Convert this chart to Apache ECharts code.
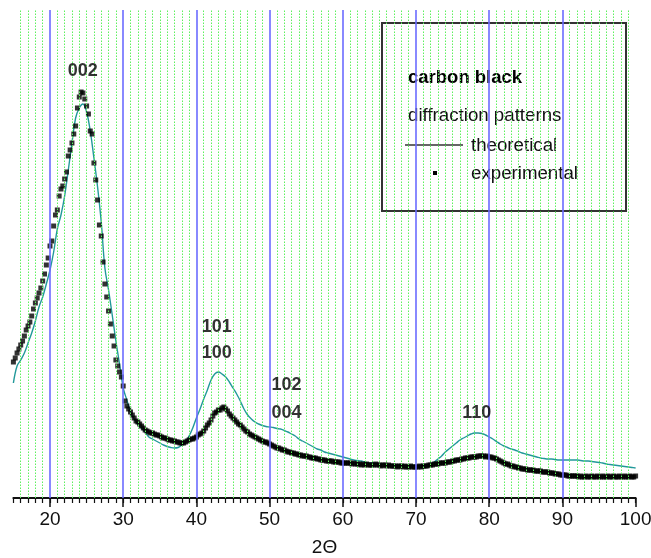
<!DOCTYPE html>
<html>
<head>
<meta charset="utf-8">
<script src="https://cdn.jsdelivr.net/npm/echarts@6/dist/echarts.min.js"></script>
<style>
  html, body { margin: 0; padding: 0; background: #fff; }
  #chart { width: 651px; height: 558px; }
</style>
</head>
<body>
<div id="chart"></div>
<script>
// X-ray diffraction of carbon black: intensity (arb. units) against 2Θ (degrees)

// Experimental scan, 2Θ from 15° to 100° in 0.25° steps (one row per degree)
const expStart = 15;
const expStep = 0.25;
const expIntensity = [
  136, 140, 145, 149,   // 15
  153, 157, 162, 168,   // 16
  172, 176, 182, 189,   // 17
  195, 200, 205, 210,   // 18
  217, 224, 233, 240,   // 19
  252, 257, 272, 283,   // 20
  288, 302, 309, 312,   // 21
  319, 326, 342, 348,   // 22
  355, 364, 372, 390,   // 23
  401, 406, 405, 399,   // 24
  392, 384, 367, 364,   // 25
  335, 318, 298, 273,   // 26
  262, 236, 214, 201,   // 27
  187, 174, 162, 152,   // 28
  138, 132, 126, 121,   // 29
  112, 97, 92, 89,      // 30
  86, 83, 80, 77,       // 31
  76, 74, 72, 70,       // 32
  68, 67, 66, 65,       // 33
  65, 64, 63, 63,       // 34
  62, 61, 60, 60,       // 35
  59, 58, 58, 57,       // 36
  57, 56, 56, 55,       // 37
  55, 55, 56, 57,       // 38
  58, 59, 59, 60,       // 39
  61, 63, 64, 65,       // 40
  67, 70, 73, 75,       // 41
  78, 82, 85, 86,       // 42
  88, 88, 90, 91,       // 43
  89, 87, 84, 82,       // 44
  80, 78, 76, 74,       // 45
  73, 71, 69, 67,       // 46
  66, 64, 63, 62,       // 47
  61, 60, 59, 58,       // 48
  57, 56, 56, 55,       // 49
  54, 53, 52, 51,       // 50
  50, 50, 49, 48,       // 51
  48, 47, 46, 46,       // 52
  45, 45, 44, 44,       // 53
  43, 43, 42, 42,       // 54
  42, 41, 41, 40,       // 55
  40, 40, 39, 39,       // 56
  38, 38, 38, 37,       // 57
  37, 37, 37, 36,       // 58
  36, 36, 36, 35,       // 59
  35, 35, 35, 35,       // 60
  35, 34, 35, 34,       // 61
  34, 34, 33, 34,       // 62
  33, 34, 33, 33,       // 63
  33, 33, 34, 33,       // 64
  33, 32, 33, 33,       // 65
  32, 33, 32, 32,       // 66
  32, 32, 31, 32,       // 67
  32, 31, 32, 31,       // 68
  31, 32, 31, 31,       // 69
  31, 31, 32, 31,       // 70
  32, 32, 32, 33,       // 71
  33, 33, 34, 34,       // 72
  34, 35, 35, 35,       // 73
  35, 36, 36, 36,       // 74
  37, 37, 38, 38,       // 75
  38, 39, 39, 40,       // 76
  40, 40, 41, 41,       // 77
  41, 41, 42, 42,       // 78
  42, 42, 41, 42,       // 79
  41, 41, 40, 40,       // 80
  39, 38, 37, 36,       // 81
  35, 34, 34, 33,       // 82
  32, 32, 31, 31,       // 83
  30, 30, 29, 29,       // 84
  29, 28, 28, 28,       // 85
  28, 27, 27, 27,       // 86
  27, 26, 26, 26,       // 87
  26, 25, 25, 25,       // 88
  24, 24, 24, 23,       // 89
  23, 23, 23, 22,       // 90
  22, 22, 22, 22,       // 91
  22, 21, 22, 21,       // 92
  21, 22, 21, 21,       // 93
  22, 21, 21, 22,       // 94
  21, 21, 22, 21,       // 95
  21, 22, 21, 21,       // 96
  22, 21, 21, 22,       // 97
  21, 21, 22, 21,       // 98
  21, 22, 21, 21,       // 99
  22                    // 100
];

// Theoretical pattern, 2Θ from 15° to 100° in 0.5° steps (one row per degree)
const theoStart = 15;
const theoStep = 0.5;
const theoIntensity = [
  115, 132,   // 15
  138, 145,   // 16
  155, 165,   // 17
  177, 191,   // 18
  201, 214,   // 19
  228, 246,   // 20
  269, 283,   // 21
  302, 328,   // 22
  355, 380,   // 23
  390, 394,   // 24
  386, 367,   // 25
  340, 311,   // 26
  276, 230,   // 27
  208, 183,   // 28
  157, 134,   // 29
  110, 98,    // 30
  86, 79,     // 31
  73.5, 70,   // 32
  66, 61,     // 33
  59, 57,     // 34
  55, 53,     // 35
  51.5, 50.5, // 36
  50, 50.5,   // 37
  53, 56,     // 38
  62, 70,     // 39
  80, 89,     // 40
  99, 108,    // 41
  118, 124,   // 42
  126, 124,   // 43
  121, 116,   // 44
  110, 104,   // 45
  97, 89,     // 46
  83, 79,     // 47
  76, 74,     // 48
  72.5, 71.5, // 49
  71, 70.5,   // 50
  69.5, 69,   // 51
  67.5, 66,   // 52
  64, 62,     // 53
  59, 57,     // 54
  55, 53,     // 55
  51, 49,     // 56
  48, 46,     // 57
  45, 44,     // 58
  43, 42,     // 59
  41, 40,     // 60
  39, 38,     // 61
  37.5, 37,   // 62
  36, 35,     // 63
  35, 34.5,   // 64
  34, 34,     // 65
  33.5, 33.5, // 66
  33, 33,     // 67
  33, 32.5,   // 68
  32.5, 32.5, // 69
  32.5, 32.5, // 70
  33, 33,     // 71
  34, 36,     // 72
  39, 42,     // 73
  46, 49,     // 74
  52, 55,     // 75
  58, 60,     // 76
  62, 64,     // 77
  65, 65,     // 78
  64.5, 63,   // 79
  61, 59,     // 80
  56.5, 54,   // 81
  52, 50.5,   // 82
  49, 48,     // 83
  46.5, 45,   // 84
  44, 43,     // 85
  42, 41,     // 86
  40, 39.5,   // 87
  39, 39,     // 88
  38.5, 38,   // 89
  38, 38,     // 90
  38, 38,     // 91
  38, 37.5,   // 92
  37, 37,     // 93
  36.5, 36,   // 94
  35.5, 35,   // 95
  34, 33.5,   // 96
  33, 32.5,   // 97
  32, 31.5,   // 98
  31, 30.5,   // 99
  30          // 100
];

// Reflection labels (hkl) and where they sit: [text, 2Θ, intensity]
const reflectionLabels = [
  ['002', 24.47, 427],
  ['101', 42.77, 171],
  ['100', 42.77, 145],
  ['102', 52.31, 113],
  ['004', 52.31, 85],
  ['110', 78.29, 85]
];

// Axis ticks and grid lines
const xMin = 15;
const xMax = 100;
const majorTicks = [20, 30, 40, 50, 60, 70, 80, 90, 100];
const majorGrid = [20, 30, 40, 50, 60, 70, 80, 90];
const minorGrid = [];
for (let v = 16; v < 100; v++) {
  if (v % 10 !== 0) minorGrid.push(v);
}

const FONT = '"Liberation Sans", Arial, Helvetica, sans-serif';

const expData = expIntensity.map((y, i) => [expStart + i * expStep, y]);
const theoData = theoIntensity.map((y, i) => [theoStart + i * theoStep, y]);

const chart = echarts.init(document.getElementById('chart'), null, { renderer: 'canvas' });

chart.setOption({
  animation: false,
  backgroundColor: '#ffffff',
  grid: {
    left: 13.4, right: 15.4, top: 10, bottom: 60,
    containLabel: false,
    outerBoundsMode: 'none'
  },
  xAxis: [
    {
      type: 'value',
      min: xMin,
      max: xMax,
      position: 'bottom',
      name: '2Θ',
      nameLocation: 'middle',
      nameGap: 40,
      nameTextStyle: { fontFamily: FONT, fontSize: 19, color: '#111' },
      axisLine: { show: true, onZero: false, lineStyle: { color: '#111', width: 2 } },
      axisTick: { show: true, customValues: majorTicks, length: 9, lineStyle: { color: '#111', width: 1.5 } },
      axisLabel: { show: true, customValues: majorTicks, margin: 12, fontFamily: FONT, fontSize: 19, color: '#111' },
      splitLine: { show: false }
    },
    {
      type: 'value',
      min: xMin,
      max: xMax,
      interval: 1,
      position: 'bottom',
      axisLine: { show: false, onZero: false },
      axisTick: { show: true, length: 5, lineStyle: { color: '#111', width: 1.2 } },
      axisLabel: { show: false },
      splitLine: { show: false }
    }
  ],
  yAxis: {
    type: 'value',
    min: 0,
    max: 488,
    show: false,
    splitLine: { show: false }
  },
  series: [
    {
      // background grid: dotted green every degree, blue every ten degrees
      name: 'grid',
      type: 'line',
      xAxisIndex: 0,
      data: [],
      silent: true,
      z: 1,
      markLine: {
        silent: true,
        symbol: ['none', 'none'],
        label: { show: false },
        animation: false,
        data: minorGrid.map(v => ({
          xAxis: v,
          lineStyle: { color: '#5ef05e', width: 1, type: [1.5, 1.5] }
        })).concat(majorGrid.map(v => ({
          xAxis: v,
          lineStyle: { color: '#6b6bff', width: 1.6, type: 'solid' }
        })))
      }
    },
    {
      name: 'theoretical',
      type: 'line',
      xAxisIndex: 0,
      data: theoData,
      smooth: 0.4,
      showSymbol: false,
      lineStyle: { color: '#22999a', width: 1.4 },
      z: 3
    },
    {
      name: 'experimental',
      type: 'scatter',
      xAxisIndex: 0,
      data: expData,
      symbol: 'rect',
      symbolSize: 5,
      itemStyle: { color: '#000' },
      z: 4
    },
    {
      name: 'reflections',
      type: 'scatter',
      xAxisIndex: 0,
      silent: true,
      data: reflectionLabels.map(r => ({ name: r[0], value: [r[1], r[2]] })),
      symbolSize: 0,
      label: {
        show: true,
        position: 'inside',
        formatter: p => p.name,
        fontFamily: FONT,
        fontSize: 18,
        fontWeight: 'bold',
        color: '#000'
      },
      z: 5
    }
  ],
  graphic: [
    {
      type: 'group',
      z: 100,
      children: [
        {
          type: 'rect',
          shape: { x: 382, y: 23, width: 244, height: 188 },
          style: { fill: '#fff', stroke: '#333', lineWidth: 2 }
        },
        {
          type: 'text',
          x: 408, y: 78,
          style: { text: 'carbon black', font: 'bold 18.5px ' + FONT, fill: '#000', textVerticalAlign: 'middle' }
        },
        {
          type: 'text',
          x: 408, y: 116,
          style: { text: 'diffraction patterns', font: '18.7px ' + FONT, fill: '#111', textVerticalAlign: 'middle' }
        },
        {
          type: 'line',
          shape: { x1: 405, y1: 145, x2: 463, y2: 145 },
          style: { stroke: '#333', lineWidth: 1.3 }
        },
        {
          type: 'text',
          x: 471, y: 146,
          style: { text: 'theoretical', font: '18.7px ' + FONT, fill: '#111', textVerticalAlign: 'middle' }
        },
        {
          type: 'rect',
          shape: { x: 433, y: 171, width: 4, height: 4 },
          style: { fill: '#000' }
        },
        {
          type: 'text',
          x: 471, y: 174,
          style: { text: 'experimental', font: '18.7px ' + FONT, fill: '#111', textVerticalAlign: 'middle' }
        }
      ]
    }
  ]
});
</script>
</body>
</html>
